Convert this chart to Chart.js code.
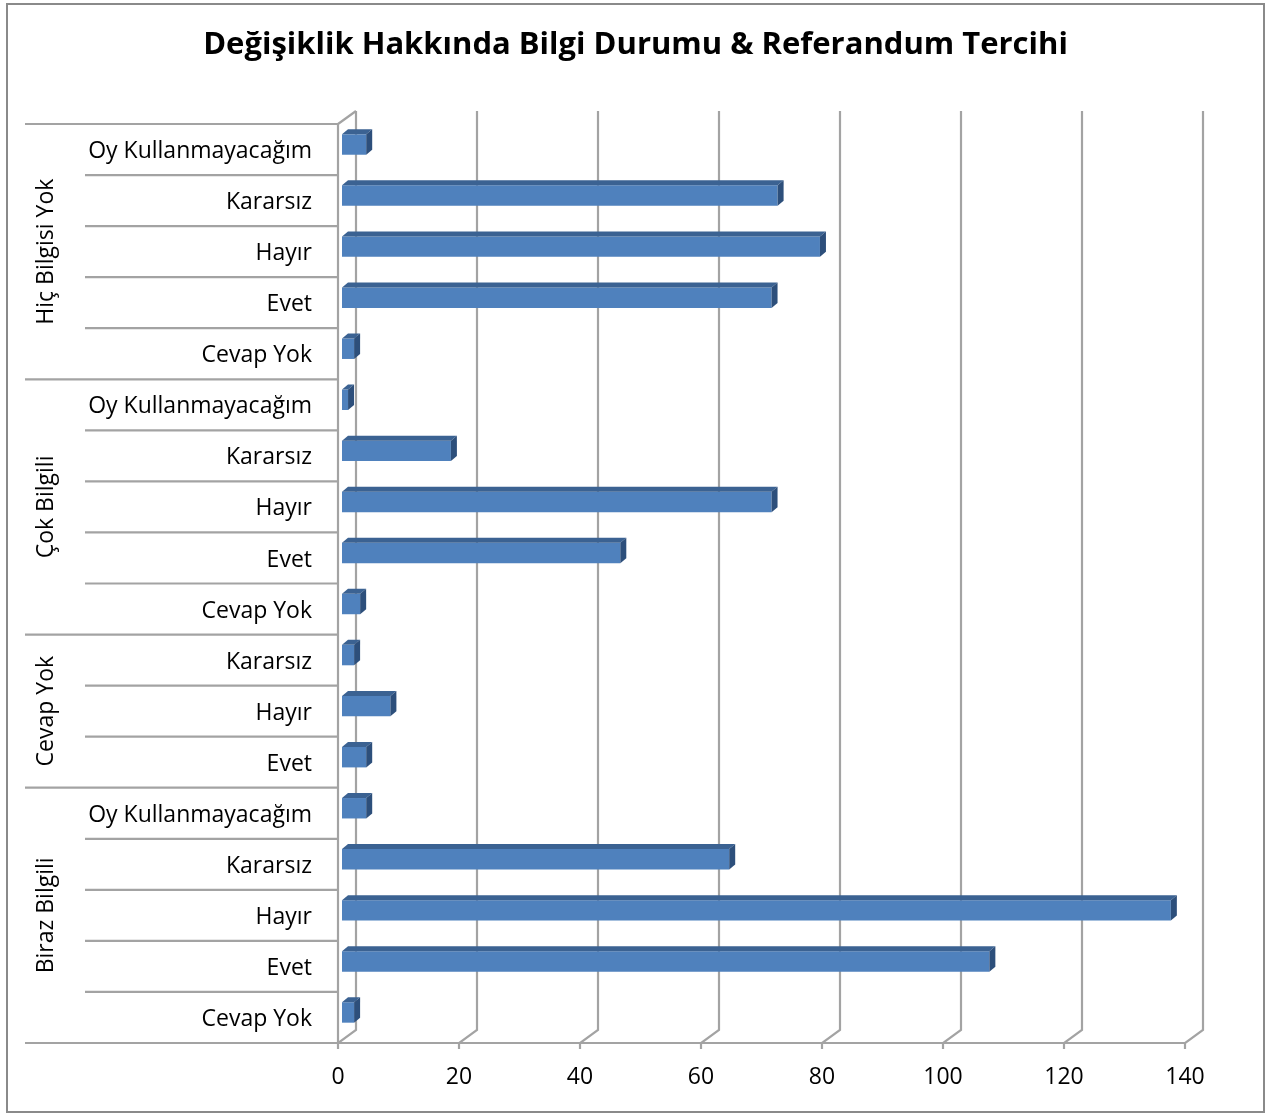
<!DOCTYPE html>
<html>
<head>
<meta charset="utf-8">
<script src="https://cdn.jsdelivr.net/npm/chart.js@4"></script>
<style>
  html, body { margin: 0; padding: 0; background: #ffffff; }
  #wrap { width: 1271px; height: 1117px; }
</style>
</head>
<body>
<div id="wrap"><canvas id="c" width="1271" height="1117"></canvas></div>
<script>
// ---- Data (top to bottom as shown) ----
const titleText = 'Değişiklik Hakkında Bilgi Durumu & Referandum Tercihi';
const groupNames = ['Hiç Bilgisi Yok', 'Çok Bilgili', 'Cevap Yok', 'Biraz Bilgili'];
const hicBilgisiYokLabels = ['Oy Kullanmayacağım', 'Kararsız', 'Hayır', 'Evet', 'Cevap Yok'];
const hicBilgisiYokValues = [4, 72, 79, 71, 2];
const cokBilgiliLabels = ['Oy Kullanmayacağım', 'Kararsız', 'Hayır', 'Evet', 'Cevap Yok'];
const cokBilgiliValues = [1, 18, 71, 46, 3];
const cevapYokLabels = ['Kararsız', 'Hayır', 'Evet'];
const cevapYokValues = [2, 8, 4];
const birazBilgiliLabels = ['Oy Kullanmayacağım', 'Kararsız', 'Hayır', 'Evet', 'Cevap Yok'];
const birazBilgiliValues = [4, 64, 137, 107, 2];
const xTicks = [0, 20, 40, 60, 80, 100, 120, 140];

const groupLabels = [hicBilgisiYokLabels, cokBilgiliLabels, cevapYokLabels, birazBilgiliLabels];
const groupValues = [hicBilgisiYokValues, cokBilgiliValues, cevapYokValues, birazBilgiliValues];
const labels = [].concat(...groupLabels);
const values = [].concat(...groupValues);
const groupSizes = groupLabels.map(g => g.length);

// ---- Style ----
const FONT = '"Open Sans", "Noto Sans", Lato, sans-serif';
const GRID = '#a3a3a3';
const PLANE = { x: 18, y: -13 };   // depth of walls
const SHIFT = { x: 4, y: -5 };     // bar front offset
const BDEPTH = { x: 6, y: -5 };    // bar depth

const threeD = {
  id: 'threeD',
  beforeDatasetsDraw(chart) {
    const { ctx, chartArea: a, scales: { x } } = chart;
    ctx.save();
    ctx.strokeStyle = GRID;
    ctx.lineWidth = 2.2;
    ctx.lineCap = 'butt';
    const top = a.top, bot = a.bottom;
    // left wall
    ctx.beginPath();
    ctx.moveTo(a.left, top); ctx.lineTo(a.left, bot);
    ctx.moveTo(a.left, top); ctx.lineTo(a.left + PLANE.x, top + PLANE.y);
    ctx.stroke();
    // back gridlines + floor diagonals
    xTicks.forEach(v => {
      const px = x.getPixelForValue(v);
      ctx.beginPath();
      ctx.moveTo(px + PLANE.x, top + PLANE.y);
      ctx.lineTo(px + PLANE.x, bot + PLANE.y);
      ctx.lineTo(px, bot);
      ctx.lineTo(px, bot + 6);
      ctx.stroke();
    });
    // front floor line
    ctx.beginPath();
    ctx.moveTo(a.left, bot); ctx.lineTo(x.getPixelForValue(xTicks[xTicks.length - 1]), bot);
    ctx.stroke();
    ctx.restore();
    ctx.save();
    ctx.translate(SHIFT.x, SHIFT.y);
  },
  afterDatasetsDraw(chart) {
    const { ctx } = chart;
    const meta = chart.getDatasetMeta(0);
    meta.data.forEach(bar => {
      const p = bar.getProps(['x', 'y', 'base', 'height'], true);
      const t = p.y - p.height / 2, b = p.y + p.height / 2;
      // top face
      ctx.fillStyle = '#3b6292';
      ctx.beginPath();
      ctx.moveTo(p.base, t);
      ctx.lineTo(p.base + BDEPTH.x, t + BDEPTH.y);
      ctx.lineTo(p.x + BDEPTH.x, t + BDEPTH.y);
      ctx.lineTo(p.x, t);
      ctx.closePath();
      ctx.fill();
      // side face
      ctx.fillStyle = '#2d4f7b';
      ctx.beginPath();
      ctx.moveTo(p.x, t);
      ctx.lineTo(p.x + BDEPTH.x, t + BDEPTH.y);
      ctx.lineTo(p.x + BDEPTH.x, b + BDEPTH.y);
      ctx.lineTo(p.x, b);
      ctx.closePath();
      ctx.fill();
    });
    ctx.restore();
  },
  afterDraw(chart) {
    const { ctx, chartArea: a, scales: { y } } = chart;
    const n = labels.length;
    const row = (a.bottom - a.top) / n;
    ctx.save();
    ctx.strokeStyle = GRID;
    ctx.lineWidth = 2.2;
    // row separators
    const groupStarts = [];
    let acc = 0;
    groupSizes.forEach(s => { groupStarts.push(acc); acc += s; });
    groupStarts.push(acc);
    for (let k = 0; k <= n; k++) {
      const yy = y.getPixelForValue(Math.min(k, n - 1)) + (k === n ? row / 2 : -row / 2);
      const isGroup = groupStarts.includes(k);
      ctx.beginPath();
      ctx.moveTo(isGroup ? 25 : 85, yy);
      ctx.lineTo(a.left, yy);
      ctx.stroke();
    }
    // group labels (rotated)
    ctx.fillStyle = '#000';
    ctx.font = '23px ' + FONT;
    ctx.textAlign = 'center';
    ctx.textBaseline = 'middle';
    groupNames.forEach((g, i) => {
      const y0 = y.getPixelForValue(groupStarts[i]) - row / 2;
      const y1 = y.getPixelForValue(groupStarts[i + 1] - 1) + row / 2;
      ctx.save();
      ctx.translate(46, (y0 + y1) / 2);
      ctx.rotate(-Math.PI / 2);
      ctx.fillText(g, 0, 0);
      ctx.restore();
    });
    // title, centred on the whole picture
    ctx.font = 'bold 31px ' + FONT;
    ctx.fillText(titleText, chart.width / 2, 45);
    // outer border
    ctx.strokeStyle = '#8a8a8a';
    ctx.lineWidth = 2;
    ctx.strokeRect(7, 4, 1257, 1108);
    ctx.restore();
  }
};

new Chart(document.getElementById('c'), {
  type: 'bar',
  data: {
    labels: labels,
    datasets: [{
      data: values,
      backgroundColor: '#4f81bd',
      borderWidth: 0,
      barPercentage: 0.4,
      categoryPercentage: 1.0
    }]
  },
  options: {
    indexAxis: 'y',
    responsive: false,
    animation: false,
    devicePixelRatio: 1,
    layout: { padding: { left: 0, right: 86, top: 124, bottom: 0 } },
    plugins: {
      legend: { display: false },
      tooltip: { enabled: false },
      title: { display: false }
    },
    scales: {
      x: {
        type: 'linear',
        min: 0, max: 140,
        afterBuildTicks(s) { s.ticks = xTicks.map(v => ({ value: v })); },
        afterFit(s) { s.height = 74; },
        grid: { display: false, drawTicks: false },
        border: { display: false },
        ticks: { color: '#000', font: { family: FONT, size: 23 }, padding: 21, maxRotation: 0 }
      },
      y: {
        type: 'category',
        offset: true,
        afterFit(s) { s.width = 338; },
        grid: { display: false, drawTicks: false },
        border: { display: false },
        ticks: { color: '#000', font: { family: FONT, size: 23 }, padding: 26, labelOffset: 2, autoSkip: false }
      }
    }
  },
  plugins: [threeD]
});
</script>
</body>
</html>
